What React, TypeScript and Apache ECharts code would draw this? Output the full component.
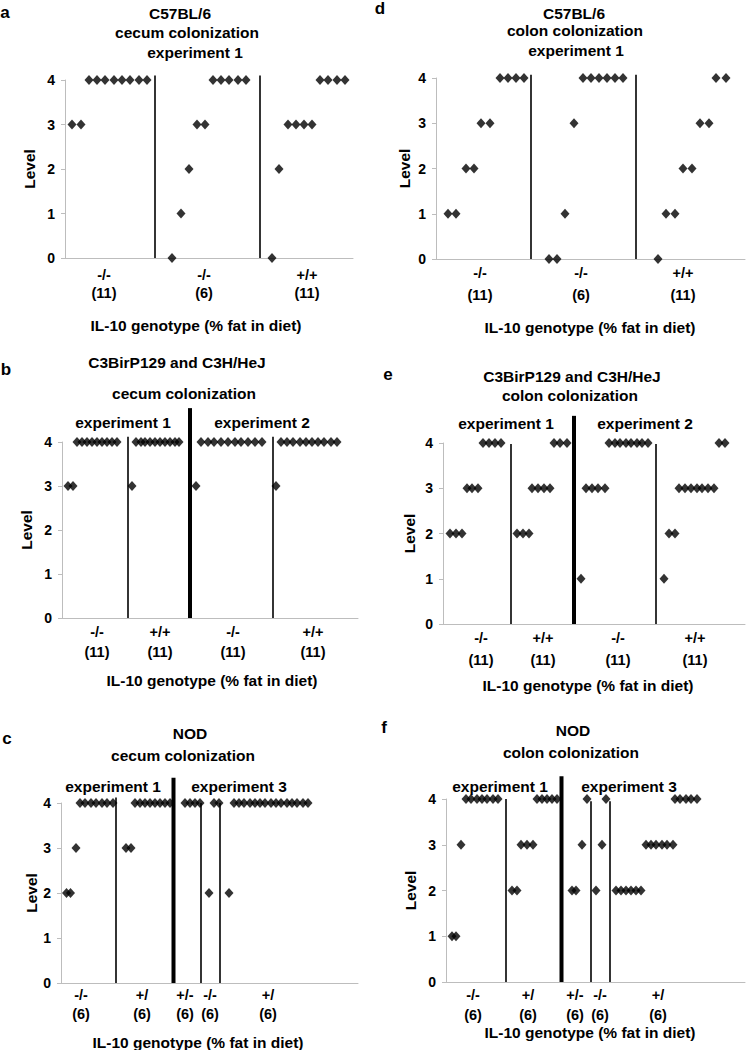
import { useEffect, useRef } from 'react';
import * as echarts from 'echarts';

const FONT = '"Liberation Sans", Arial, sans-serif';
const AXIS_GREY = '#bdbdbd';

// Each dot: [position along the x axis, colonization level]

// a: C57BL/6, cecum, experiment 1
const aDots = [
    [7, 3], [16, 3],
    [24, 4], [32, 4], [40, 4], [49, 4], [57, 4], [65, 4], [74, 4], [82, 4],
    [107, 0], [116, 1], [124, 2], [132, 3], [140, 3],
    [148, 4], [156, 4], [164, 4], [173, 4], [181, 4],
    [207, 0], [214, 2], [223, 3], [231, 3], [239, 3], [247, 3],
    [255, 4], [263, 4], [272, 4], [280, 4]
];
const aSplits = [90, 195];
const aSplitTop = [4.1, 4.1];
const aGroupPos = [39, 139, 242];
const aGroupText = ['-/-\n(11)', '-/-\n(6)', '+/+\n(11)'];

// d: C57BL/6, colon, experiment 1
const dDots = [
    [12, 1], [20, 1], [30, 2], [38, 2], [45, 3], [54, 3],
    [64, 4], [72, 4], [80, 4], [88, 4],
    [113, 0], [121, 0], [129, 1], [138, 3],
    [147, 4], [155, 4], [163, 4], [171, 4], [179, 4], [187, 4],
    [222, 0], [230, 1], [239, 1], [247, 2], [256, 2], [264, 3], [273, 3],
    [280, 4], [290, 4]
];
const dSplits = [95, 200];
const dSplitTop = [4.07, 4.07];
const dGroupPos = [44, 145, 247];
const dGroupText = ['-/-\n(11)', '-/-\n(6)', '+/+\n(11)'];

// b: C3BirP129 and C3H/HeJ, cecum, experiments 1 and 2
const bDots = [
    [6, 3], [11, 3],
    [15, 4], [20, 4], [25, 4], [30, 4], [35, 4], [40, 4], [45, 4], [50, 4], [55, 4],
    [70, 3],
    [74, 4], [79, 4], [83, 4], [88, 4], [93, 4], [98, 4], [103, 4], [108, 4], [113, 4], [117, 4],
    [134, 3],
    [139, 4], [146, 4], [152, 4], [159, 4], [166, 4], [173, 4], [179, 4], [186, 4], [193, 4], [200, 4],
    [214, 3],
    [219, 4], [225, 4], [231, 4], [238, 4], [244, 4], [250, 4], [256, 4], [262, 4], [269, 4], [275, 4]
];
const bSplits = [66, 211];
const bSplitTop = [4.12, 4.12];
const bExpSplit = [128];
const bExpSplitTop = [4.77];
const bGroupPos = [35, 98, 171, 251];
const bGroupText = ['-/-\n(11)', '+/+\n(11)', '-/-\n(11)', '+/+\n(11)'];

// e: C3BirP129 and C3H/HeJ, colon, experiments 1 and 2
const eDots = [
    [7, 2], [13, 2], [19, 2], [24, 3], [29, 3], [35, 3],
    [40, 4], [46, 4], [52, 4], [58, 4],
    [74, 2], [80, 2], [86, 2], [89, 3], [95, 3], [101, 3], [107, 3],
    [111, 4], [117, 4], [124, 4],
    [138, 1], [143, 3], [149, 3], [155, 3], [162, 3],
    [166, 4], [172, 4], [177, 4], [183, 4], [188, 4], [194, 4], [199, 4], [205, 4],
    [221, 1], [226, 2], [232, 2],
    [236, 3], [242, 3], [248, 3], [254, 3], [259, 3], [265, 3], [271, 3],
    [276, 4], [282, 4]
];
const eSplits = [68, 213];
const eSplitTop = [3.98, 3.98];
const eExpSplit = [131];
const eExpSplitTop = [4.6];
const eGroupPos = [38, 100, 175, 252];
const eGroupText = ['-/-\n(11)', '+/+\n(11)', '-/-\n(11)', '+/+\n(11)'];

// c: NOD, cecum, experiments 1 and 3
const cDots = [
    [5.5, 2], [9.5, 2], [15, 3],
    [19, 4], [24, 4], [30, 4], [35, 4], [41, 4], [46, 4], [52, 4],
    [65, 3], [70, 3],
    [74, 4], [79, 4], [84, 4], [89, 4], [94, 4], [99, 4], [104, 4], [109, 4],
    [124, 4], [129, 4], [134, 4], [139, 4],
    [148, 2], [153, 4], [158, 4],
    [168, 2],
    [173, 4], [178, 4], [183, 4], [189, 4], [194, 4], [199, 4], [204, 4], [210, 4],
    [215, 4], [220, 4], [226, 4], [231, 4], [236, 4], [242, 4], [247, 4]
];
const cSplits = [55, 140, 159];
const cSplitTop = [4.12, 4.0, 4.0];
const cExpSplit = [112.5];
const cExpSplitTop = [4.56];
const cGroupPos = [20, 81, 124, 149, 207];
const cGroupText = ['-/-\n(6)', '+/\n(6)', '+/-\n(6)', '-/-\n(6)', '+/\n(6)'];

// f: NOD, colon, experiments 1 and 3
const fDots = [
    [6, 1], [10, 1], [15, 3],
    [20, 4], [25, 4], [31, 4], [36, 4], [41, 4], [47, 4], [52, 4],
    [66, 2], [71, 2], [75, 3], [81, 3], [87, 3],
    [91, 4], [96, 4], [101, 4], [106, 4], [111, 4],
    [126, 2], [130, 2], [136, 3], [141, 4],
    [150, 2], [156, 3], [160, 4],
    [170, 2], [175, 2], [180, 2], [185, 2], [190, 2], [195, 2],
    [200, 3], [205, 3], [210, 3], [216, 3], [221, 3], [227, 3],
    [229, 4], [234, 4], [240, 4], [245, 4], [251, 4]
];
const fSplits = [60, 145, 164];
const fSplitTop = [4.0, 3.95, 3.95];
const fExpSplit = [115.5];
const fExpSplitTop = [4.5];
const fGroupPos = [27, 82, 129, 154, 212];
const fGroupText = ['-/-\n(6)', '+/\n(6)', '+/-\n(6)', '-/-\n(6)', '+/\n(6)'];

// layout of the six panels: plot box [left, top, width, height] in px
const panels = [
    { dots: aDots, thin: aSplits, thinTop: aSplitTop, thick: [], thickTop: [], gPos: aGroupPos, gText: aGroupText,
      box: [65, 80, 288, 178], labelMargin: 8, labelLH: 18, nameGap: 28 },
    { dots: dDots, thin: dSplits, thinTop: dSplitTop, thick: [], thickTop: [], gPos: dGroupPos, gText: dGroupText,
      box: [436, 78, 309, 181], labelMargin: 3, labelLH: 22, nameGap: 24 },
    { dots: bDots, thin: bSplits, thinTop: bSplitTop, thick: bExpSplit, thickTop: bExpSplitTop, gPos: bGroupPos, gText: bGroupText,
      box: [62, 442, 296, 176], labelMargin: 4, labelLH: 20, nameGap: 28 },
    { dots: eDots, thin: eSplits, thinTop: eSplitTop, thick: eExpSplit, thickTop: eExpSplitTop, gPos: eGroupPos, gText: eGroupText,
      box: [443, 443, 302, 181], labelMargin: 3, labelLH: 22, nameGap: 26 },
    { dots: cDots, thin: cSplits, thinTop: cSplitTop, thick: cExpSplit, thickTop: cExpSplitTop, gPos: cGroupPos, gText: cGroupText,
      box: [61, 803, 297, 180], labelMargin: 2, labelLH: 19, nameGap: 22 },
    { dots: fDots, thin: fSplits, thinTop: fSplitTop, thick: fExpSplit, thickTop: fExpSplitTop, gPos: fGroupPos, gText: fGroupText,
      box: [446, 799, 299, 183], labelMargin: 3, labelLH: 20, nameGap: 28 }
];

// free texts: [text, x, y, fontSize]
const texts: [string, number, number, number][] = [
    ['a', 5, 12, 17], ['C57BL/6', 180, 13, 15.5], ['cecum colonization', 187, 32, 15.5], ['experiment 1', 195, 52, 15.5],
    ['IL-10 genotype (% fat in diet)', 196, 325, 15.5],
    ['d', 380, 8, 17], ['C57BL/6', 574, 13, 15.5], ['colon colonization', 575, 30, 15.5], ['experiment 1', 576, 50, 15.5],
    ['IL-10 genotype (% fat in diet)', 590, 327, 15.5],
    ['b', 6, 369, 17], ['C3BirP129 and C3H/HeJ', 177, 362, 15.5], ['cecum colonization', 184, 393, 15.5],
    ['experiment 1', 123, 422, 15.5], ['experiment 2', 262, 422, 15.5],
    ['IL-10 genotype (% fat in diet)', 212, 680, 15.5],
    ['e', 388, 374, 17], ['C3BirP129 and C3H/HeJ', 572, 376, 15.5], ['colon colonization', 570, 395, 15.5],
    ['experiment 1', 506, 423, 15.5], ['experiment 2', 645, 423, 15.5],
    ['IL-10 genotype (% fat in diet)', 588, 685, 15.5],
    ['c', 7, 738, 17], ['NOD', 190, 733, 15.5], ['cecum colonization', 183, 755, 15.5],
    ['experiment 1', 113, 786, 15.5], ['experiment 3', 239, 786, 15.5],
    ['IL-10 genotype (% fat in diet)', 198, 1042, 15.5],
    ['f', 384, 727, 17], ['NOD', 573, 730, 15.5], ['colon colonization', 571, 752, 15.5],
    ['experiment 1', 500, 786, 15.5], ['experiment 3', 629, 786, 15.5],
    ['IL-10 genotype (% fat in diet)', 590, 1032, 15.5]
];

const nearest = (arr: number[], v: number) => {
    let best = 0;
    arr.forEach((a, i) => { if (Math.abs(a - v) < Math.abs(arr[best] - v)) best = i; });
    return best;
};

export default function App() {
    const chartRef = useRef<HTMLDivElement>(null);

    useEffect(() => {
        if (!chartRef.current) return;
        const chart = echarts.init(chartRef.current, null, { renderer: 'svg' });

        const grid: any[] = [];
        const xAxis: any[] = [];
        const yAxis: any[] = [];
        const series: any[] = [];

        panels.forEach((p, i) => {
            grid.push({ left: p.box[0], top: p.box[1], width: p.box[2], height: p.box[3], outerBoundsMode: 'none' });
            xAxis.push({
                gridIndex: i, type: 'value', min: 0, max: p.box[2],
                splitLine: { show: false }, axisTick: { show: false },
                axisLine: { show: true, onZero: false, lineStyle: { color: AXIS_GREY, width: 1 } },
                axisLabel: {
                    customValues: p.gPos,
                    formatter: (v: number) => p.gText[nearest(p.gPos, v)],
                    margin: p.labelMargin, lineHeight: p.labelLH,
                    fontFamily: FONT, fontWeight: 'bold', fontSize: 14.5, color: '#000', hideOverlap: false
                }
            });
            yAxis.push({
                gridIndex: i, type: 'value', min: 0, max: 4, interval: 1,
                splitLine: { show: false },
                axisLine: { show: true, lineStyle: { color: AXIS_GREY, width: 1 } },
                axisTick: { show: true, length: 4, lineStyle: { color: AXIS_GREY } },
                axisLabel: { margin: 10, fontFamily: FONT, fontWeight: 'bold', fontSize: 14, color: '#000' },
                name: 'Level', nameLocation: 'middle', nameRotate: 90, nameGap: p.nameGap,
                nameTextStyle: { fontFamily: FONT, fontWeight: 'bold', fontSize: 15.5, color: '#000' }
            });
            p.thin.forEach((x, k) => series.push({
                type: 'line', xAxisIndex: i, yAxisIndex: i, data: [[x, 0], [x, p.thinTop[k]]],
                symbol: 'none', clip: false, silent: true, z: 1,
                lineStyle: { color: '#111', width: 1.7 }
            }));
            p.thick.forEach((x, k) => series.push({
                type: 'line', xAxisIndex: i, yAxisIndex: i, data: [[x, 0], [x, p.thickTop[k]]],
                symbol: 'none', clip: false, silent: true, z: 1,
                lineStyle: { color: '#000', width: 4 }
            }));
            series.push({
                type: 'scatter', xAxisIndex: i, yAxisIndex: i, data: p.dots,
                symbol: 'diamond', symbolSize: [9, 10], clip: false, z: 3,
                itemStyle: { color: '#000' }
            });
        });

        chart.setOption({
            animation: false,
            backgroundColor: '#fff',
            grid, xAxis, yAxis, series,
            graphic: texts.map(([t, x, y, s]) => ({
                type: 'text', x, y, silent: true,
                style: {
                    text: t, fill: '#000', fontFamily: FONT, fontWeight: 'bold', fontSize: s,
                    textAlign: 'center', textVerticalAlign: 'middle', align: 'center', verticalAlign: 'middle'
                }
            }))
        });

        return () => chart.dispose();
    }, []);

    return <div ref={chartRef} style={{ position: 'absolute', left: 0, top: 0, width: 746, height: 1050 }} />;
}
